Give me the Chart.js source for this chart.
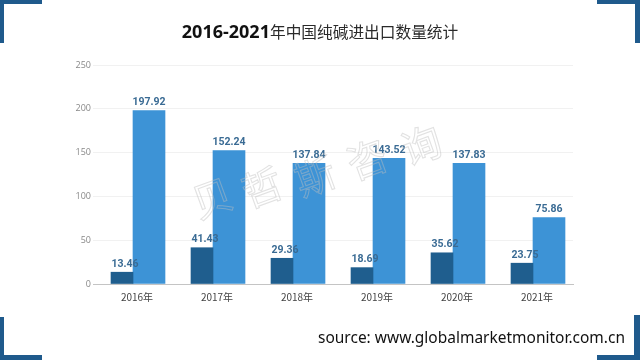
<!DOCTYPE html>
<html>
<head>
<meta charset="utf-8">
<script src="https://cdn.jsdelivr.net/npm/chart.js@4"></script>
<style>
  html, body { margin: 0; padding: 0; background: #ffffff; }
  #c { display: block; }
</style>
</head>
<body>
<canvas id="c" width="640" height="360"></canvas>
<script>
const categories = ['2016年', '2017年', '2018年', '2019年', '2020年', '2021年'];
const importValues = [13.46, 41.43, 29.36, 18.69, 35.62, 23.75];
const exportValues = [197.92, 152.24, 137.84, 143.52, 137.83, 75.86];
const yTicks = [0, 50, 100, 150, 200, 250];
const titleNum = '2016-2021';
const titleCjk = '年中国纯碱进出口数量统计';
const sourceText = 'source: www.globalmarketmonitor.com.cn';
const watermarkChars = ['贝', '哲', '斯', '咨', '询'];

const darkBlue = '#1f5e8e';
const lightBlue = '#3d93d6';
const labelColor = '#3a6b94';
const cornerColor = '#1f5a8c';

const decorPlugin = {
  id: 'decor',
  beforeDraw(chart) {
    const ctx = chart.ctx;
    ctx.save();
    ctx.fillStyle = '#ffffff';
    ctx.fillRect(0, 0, chart.width, chart.height);
    ctx.fillStyle = cornerColor;
    // top-left
    ctx.fillRect(0, 0, 42, 4);
    ctx.fillRect(0, 0, 4, 43);
    // top-right
    ctx.fillRect(597, 0, 43, 4);
    ctx.fillRect(635, 0, 5, 43);
    // bottom-left
    ctx.fillRect(0, 317, 4, 43);
    ctx.fillRect(0, 355, 42, 5);
    // bottom-right
    ctx.fillRect(634, 315, 6, 45);
    ctx.fillRect(597, 355, 43, 5);
    ctx.restore();
  },
  afterDatasetsDraw(chart) {
    const ctx = chart.ctx;
    ctx.save();
    // data labels
    ctx.font = 'bold 10.5px Roboto, "Noto Sans", sans-serif';
    ctx.fillStyle = labelColor;
    ctx.textAlign = 'center';
    ctx.textBaseline = 'bottom';
    chart.data.datasets.forEach((ds, di) => {
      const meta = chart.getDatasetMeta(di);
      meta.data.forEach((el, i) => {
        const dx = di === 0 ? 3 : 0;
        ctx.fillText(ds.data[i].toFixed(2), el.x + dx, el.y - 3);
      });
    });
    // watermark
    const pos = [[212, 198], [262, 187], [315, 176], [367, 159], [421, 145]];
    ctx.font = '40px "Noto Sans CJK SC", sans-serif';
    ctx.textAlign = 'center';
    ctx.textBaseline = 'middle';
    ctx.strokeStyle = 'rgba(190,190,190,0.45)';
    ctx.lineWidth = 1.1;
    watermarkChars.forEach((ch, i) => {
      ctx.save();
      ctx.translate(pos[i][0], pos[i][1]);
      ctx.rotate(-20 * Math.PI / 180);
      ctx.strokeText(ch, 0, 0);
      ctx.restore();
    });
    ctx.restore();
  },
  afterDraw(chart) {
    const ctx = chart.ctx;
    ctx.save();
    // title
    const fNum = 'bold 18px "Open Sans", sans-serif';
    const fCjk = '15.7px "Noto Sans CJK SC", sans-serif';
    ctx.font = fNum;
    const w1 = ctx.measureText(titleNum).width;
    ctx.font = fCjk;
    const w2 = ctx.measureText(titleCjk).width;
    const x0 = 320 - (w1 + w2) / 2;
    ctx.textAlign = 'left';
    ctx.textBaseline = 'alphabetic';
    ctx.fillStyle = '#111111';
    ctx.font = fNum;
    ctx.fillText(titleNum, x0, 38);
    ctx.font = fCjk;
    ctx.fillStyle = '#2a2a2a';
    ctx.fillText(titleCjk, x0 + w1, 38);
    // source
    ctx.font = '16px "Noto Sans", sans-serif';
    const ws = ctx.measureText(sourceText).width;
    const targetW = 307;
    ctx.fillStyle = '#111111';
    ctx.translate(318, 343);
    ctx.scale(targetW / ws, 1);
    ctx.fillText(sourceText, 0, 0);
    ctx.restore();
  }
};

new Chart(document.getElementById('c'), {
  type: 'bar',
  data: {
    labels: categories,
    datasets: [
      { label: '进口', data: importValues, backgroundColor: darkBlue, barThickness: 22 },
      { label: '出口', data: exportValues, backgroundColor: lightBlue, barThickness: 32 }
    ]
  },
  options: {
    responsive: false,
    animation: false,
    events: [],
    layout: { padding: { top: 65, right: 67, bottom: 56, left: 0 } },
    plugins: {
      legend: { display: false },
      title: { display: false },
      tooltip: { enabled: false }
    },
    scales: {
      x: {
        offset: true,
        grid: { display: false, drawTicks: false },
        border: { display: true, color: '#c4c4c4', width: 1 },
        ticks: {
          padding: 7,
          labelOffset: 4,
          color: '#444444',
          font: { size: 10, family: '"Noto Sans CJK SC", sans-serif' }
        },
        afterFit(scale) { scale.height = 20; }
      },
      y: {
        min: 0,
        max: 250,
        afterBuildTicks(scale) { scale.ticks = yTicks.map(v => ({ value: v })); },
        grid: { color: '#f1f1f1', drawTicks: false },
        border: { display: false },
        ticks: {
          padding: 2,
          color: '#888888',
          font: { size: 9, family: '"Open Sans", sans-serif' }
        },
        afterFit(scale) { scale.width = 93; }
      }
    }
  },
  plugins: [decorPlugin]
});
</script>
</body>
</html>
